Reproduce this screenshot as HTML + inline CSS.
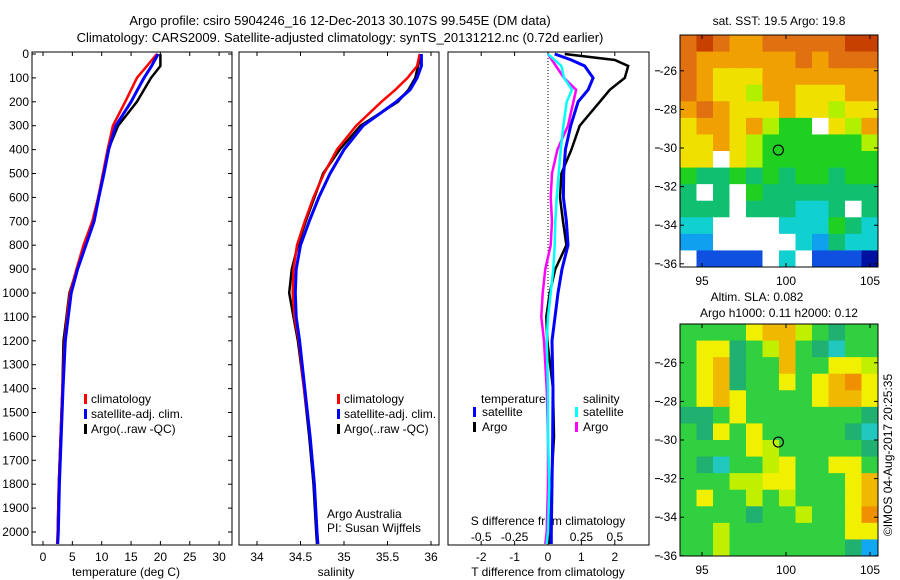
<!DOCTYPE html>
<html><head><meta charset="utf-8"><style>
body{margin:0;background:#fff;}
svg{display:block;font-family:"Liberation Sans",sans-serif;}
</style></head><body>
<svg id="fig" width="900" height="580" viewBox="0 0 900 580" xmlns="http://www.w3.org/2000/svg">
<rect x="0" y="0" width="900" height="580" fill="#fff"/>
<text x="340" y="25" font-size="13" text-anchor="middle">Argo profile: csiro 5904246_16 12-Dec-2013 30.107S 99.545E (DM data)</text>
<text x="340" y="42" font-size="13" text-anchor="middle">Climatology: CARS2009. Satellite-adjusted climatology: synTS_20131212.nc (0.72d earlier)</text>
<g id="plots"></g>
</svg>
<script>
// ---- data ----
const depths = [0,50,100,150,200,300,400,500,600,700,800,900,1000,1100,1200,1400,1600,1800,2000,2050];
const tempClim = [19.4,17.7,16.0,15.0,14.0,11.9,11.0,10.2,9.4,8.4,6.9,5.7,4.6,4.1,3.7,3.3,3.0,2.7,2.5,2.4];
const tempSat  = [19.6,18.5,17.2,16.1,15.0,12.4,11.2,10.4,9.5,8.7,7.3,5.9,4.8,4.3,3.8,3.4,3.1,2.8,2.6,2.5];
const tempArgo = [20.0,20.0,18.4,17.2,16.0,12.8,11.1,10.3,9.4,8.6,7.2,5.8,4.5,4.0,3.5,3.3,3.0,2.7,2.5,2.5];
const salClim = [35.87,35.84,35.73,35.59,35.43,35.14,34.92,34.77,34.65,34.55,34.46,34.42,34.41,34.43,34.48,34.54,34.61,34.66,34.69,34.70];
const salSat  = [35.89,35.89,35.84,35.76,35.60,35.22,35.00,34.84,34.71,34.60,34.50,34.45,34.44,34.45,34.49,34.55,34.61,34.66,34.69,34.70];
const salArgo = [35.88,35.85,35.82,35.74,35.62,35.19,34.95,34.76,34.66,34.56,34.47,34.40,34.37,34.42,34.47,34.54,34.60,34.65,34.68,34.69];
const diffDepths = [0,25,50,100,150,200,300,400,500,600,700,800,900,1000,1100,1200,1400,1600,1800,2000,2050];
const tDiffSat  = [0.2,0.7,1.1,1.35,1.2,0.9,0.68,0.52,0.47,0.46,0.55,0.6,0.42,0.3,0.21,0.12,0.15,0.14,0.12,0.1,0.1];
const tDiffArgo = [0.5,2.0,2.4,2.3,1.85,1.55,0.95,0.7,0.4,0.36,0.45,0.55,0.22,0.05,-0.05,-0.02,0.15,0.18,0.1,0.05,0.05];
const sDiffSat  = [0,0.05,0.1,0.12,0.18,0.14,0.115,0.095,0.08,0.065,0.055,0.05,0.04,0.02,0.0,-0.01,0.0,0.0,0.01,0.0,-0.01];
const sDiffArgo = [0,0.03,0.06,0.12,0.21,0.19,0.15,0.07,0.03,0.02,0.03,0.02,-0.02,-0.04,-0.05,-0.03,-0.01,0.0,0.0,-0.01,-0.02];
const depthTicks = [0,100,200,300,400,500,600,700,800,900,1000,1100,1200,1300,1400,1500,1600,1700,1800,1900,2000];
const tempTicks = [0,5,10,15,20,25,30];
const salTicks = [34,34.5,35,35.5,36];
const tDiffTicks = [-2,-1,0,1,2];
const sDiffTicks = [-0.5,-0.25,0,0.25,0.5];
const latTicks = [-26,-28,-30,-32,-34,-36];
const lonTicks = [95,100,105];
const sstGrid = [
"212332222211","233333323222","234443333333","234453344433",
"323444344544","433435660453","443456666665","440456666666",
"677676766766","707067777777","777077788707","880000888678",
"990000089788","0AAAA080AAAB"];
const slaGrid = [
"666643356766","644765367866","643766366445","643766464324",
"643466664334","776466666667","674646666678","666645666667",
"678665466446","666554466643","646656566643","666676656642",
"665666666644","665666666679"];
const argoLon = 99.545, argoLat = -30.107;

const NS="http://www.w3.org/2000/svg";
const root=document.getElementById('plots');
function el(tag,attrs,parent){const e=document.createElementNS(NS,tag);for(const k in attrs)e.setAttribute(k,attrs[k]);(parent||root).appendChild(e);return e;}
function txt(x,y,s,anchor,size,parent){const t=el('text',{x:x,y:y,'font-size':size||12,'text-anchor':anchor||'start'},parent);t.textContent=s;return t;}

const yD=d=>54+d*0.239;
const xT=t=>43+t*5.87;
const xS=s=>257+(s-34)*87;
const xTd=t=>548+t*33.4;
const xSd=s=>548+s*133.6;
const PT=52,PB=545;

function line(xs,ds,fx,color,w,name,g){
  const pts=xs.map((v,i)=>fx(v).toFixed(1)+','+yD(ds[i]).toFixed(1)).join(' ');
  const p=el('polyline',{points:pts,fill:'none',stroke:color,'stroke-width':w,'stroke-linejoin':'miter'},g);
  
  
}
function frame(x0,x1,name){
  const g=el('g',{});
  
  
  el('rect',{x:x0,y:PT,width:x1-x0,height:PB-PT,fill:'#fff',stroke:'#000','stroke-width':1},g);
  return g;
}
function legendBar(x,y,color,g){el('rect',{x:x,y:y-9,width:3,height:10,fill:color},g);}

// Panel 1 temperature
let g1=frame(32,232,'temperature-panel');
depthTicks.forEach(d=>{const y=yD(d);el('line',{x1:32,y1:y,x2:36,y2:y,stroke:'#000'},g1);el('line',{x1:228,y1:y,x2:232,y2:y,stroke:'#000'},g1);
  const t=txt(29,y+4,String(d),'end',12,g1);});
tempTicks.forEach(v=>{const x=xT(v);el('line',{x1:x,y1:PT,x2:x,y2:PT+4,stroke:'#000'},g1);el('line',{x1:x,y1:PB-4,x2:x,y2:PB,stroke:'#000'},g1);
  const t=txt(x,561,String(v),'middle',12,g1);});
txt(126,576,'temperature (deg C)','middle',12,g1);
line(tempArgo,depths,xT,'#000',2.5,'temp-argo-line',g1);
line(tempClim,depths,xT,'#f00',2.5,'temp-climatology-line',g1);
line(tempSat,depths,xT,'#00f',3,'temp-satellite-line',g1);
legendBar(84,403,'#f00',g1);txt(91,403,'climatology','start',12,g1);
legendBar(84,418,'#00f',g1);txt(91,418,'satellite-adj. clim.','start',12,g1);
legendBar(84,433,'#000',g1);txt(91,433,'Argo(..raw -QC)','start',12,g1);

// Panel 2 salinity
let g2=frame(239,439,'salinity-panel');
salTicks.forEach(v=>{const x=xS(v);el('line',{x1:x,y1:PT,x2:x,y2:PT+4,stroke:'#000'},g2);el('line',{x1:x,y1:PB-4,x2:x,y2:PB,stroke:'#000'},g2);
  const t=txt(x,561,String(v),'middle',12,g2);});
txt(336,576,'salinity','middle',12,g2);
line(salArgo,depths,xS,'#000',2.5,'sal-argo-line',g2);
line(salClim,depths,xS,'#f00',2.5,'sal-climatology-line',g2);
line(salSat,depths,xS,'#00f',3,'sal-satellite-line',g2);
legendBar(337,403,'#f00',g2);txt(344,403,'climatology','start',12,g2);
legendBar(337,418,'#00f',g2);txt(344,418,'satellite-adj. clim.','start',12,g2);
legendBar(337,433,'#000',g2);txt(344,433,'Argo(..raw -QC)','start',12,g2);
txt(327,518,'Argo Australia','start',12,g2);
txt(327,532,'PI: Susan Wijffels','start',12,g2);

// Panel 3 differences
let g3=frame(448,649,'difference-panel');
el('line',{x1:548,y1:PT,x2:548,y2:PB,stroke:'#000','stroke-dasharray':'1,2'},g3);
tDiffTicks.forEach(v=>{const x=xTd(v);el('line',{x1:x,y1:PT,x2:x,y2:PT+4,stroke:'#000'},g3);el('line',{x1:x,y1:PB-4,x2:x,y2:PB,stroke:'#000'},g3);
  const t=txt(x,561,String(v),'middle',12,g3);});
sDiffTicks.forEach(v=>{const x=xSd(v);
  const t=txt(x,541,String(v),'middle',12,g3);});
txt(548,525,'S difference from climatology','middle',12,g3);
txt(548,576,'T difference from climatology','middle',12,g3);
line(tDiffArgo,diffDepths,xTd,'#000',2.5,'tdiff-argo-line',g3);
line(tDiffSat,diffDepths,xTd,'#00f',3,'tdiff-satellite-line',g3);
line(sDiffArgo,diffDepths,xSd,'#f0f',2.5,'sdiff-argo-line',g3);
line(sDiffSat,diffDepths,xSd,'#0ff',2.5,'sdiff-satellite-line',g3);
txt(481,403,'temperature','start',12,g3);
legendBar(473,416,'#00f',g3);txt(482,416,'satellite','start',12,g3);
legendBar(473,431,'#000',g3);txt(482,431,'Argo','start',12,g3);
txt(583,403,'salinity','start',12,g3);
legendBar(575,416,'#0ff',g3);txt(583,416,'satellite','start',12,g3);
legendBar(575,431,'#f0f',g3);txt(583,431,'Argo','start',12,g3);

// Maps
const sstColors={'0':'#fff','1':'#c84000','2':'#e07010','3':'#f0a000','4':'#f0e000','5':'#b0f000','6':'#20d020','7':'#10c070','8':'#10d0d0','9':'#10a0f0','A':'#1050e0','B':'#0010a0'};
const slaColors={'2':'#f09000','3':'#f0b800','4':'#f0f000','5':'#c0f000','6':'#30d040','7':'#20b070','8':'#20c8c0','9':'#10a8f0'};
function map(top,bottom,grid,colors,name,latFn){
  const g=el('g',{});
  
  
  const L=680,R=878,rows=grid.length,cols=grid[0].length,cw=(R-L)/cols,ch=(bottom-top)/rows;
  grid.forEach((row,r)=>{[...row].forEach((c,k)=>{
    const rc=el('rect',{x:(L+k*cw).toFixed(2),y:(top+r*ch).toFixed(2),width:(cw+0.5).toFixed(2),height:(ch+0.5).toFixed(2),fill:colors[c]},g);
    
    
  });});
  el('rect',{x:L,y:top,width:R-L,height:bottom-top,fill:'none',stroke:'#000'},g);
  const xL=lon=>786+(lon-100)*16.8;
  lonTicks.forEach(v=>{const x=xL(v);el('line',{x1:x,y1:top,x2:x,y2:top+4,stroke:'#000'},g);el('line',{x1:x,y1:bottom-4,x2:x,y2:bottom,stroke:'#000'},g);
    const t=txt(x,bottom+18,String(v),'middle',12,g);});
  latTicks.forEach(v=>{const y=latFn(v);el('line',{x1:R-4,y1:y,x2:R,y2:y,stroke:'#000'},g);el('line',{x1:L,y1:y,x2:L+4,y2:y,stroke:'#000'},g);el('line',{x1:655,y1:y,x2:660,y2:y,stroke:'#000'},g);
    const t=txt(677,y+4,String(v),'end',12,g);});
  const m=el('circle',{cx:xL(argoLon),cy:latFn(argoLat),r:5,fill:'none',stroke:'#000','stroke-width':1.2},g);
  
  
}
map(35,267,sstGrid,sstColors,'sst-map',lat=>148+(-30-lat)*19.3);
map(324,556,slaGrid,slaColors,'sla-map',lat=>440+(-30-lat)*19.3);
txt(779,25,'sat. SST: 19.5 Argo: 19.8','middle',12);
txt(757,301,'Altim. SLA: 0.082','middle',12);
txt(779,317,'Argo h1000: 0.11 h2000: 0.12','middle',12);
const cr=txt(0,0,'©IMOS 04-Aug-2017 20:25:35','middle',12);
cr.setAttribute('transform','translate(892,455) rotate(-90)');


</script>
</body></html>
